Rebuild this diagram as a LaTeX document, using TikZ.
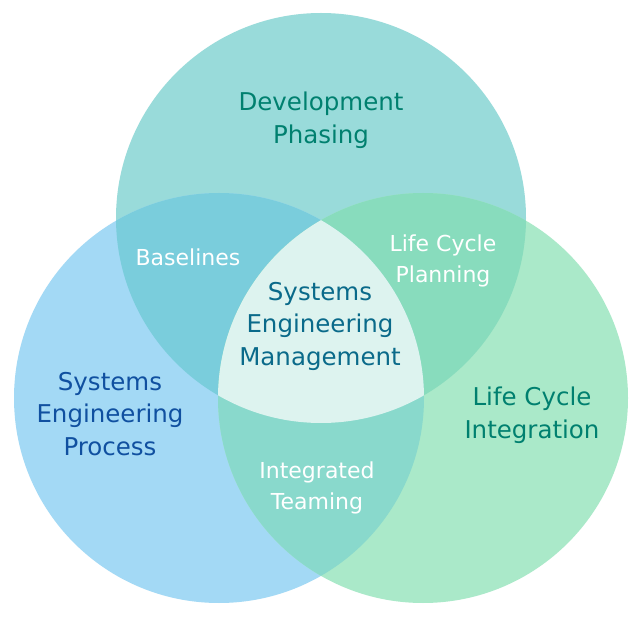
\documentclass[tikz,border=0pt]{standalone}
\usepackage{fontspec}
\setmainfont{DejaVu Sans}
\definecolor{cTop}{HTML}{99DBDA}
\definecolor{cLeft}{HTML}{A3D9F5}
\definecolor{cRight}{HTML}{AAE9C9}
\definecolor{cTL}{HTML}{7ACDDC}
\definecolor{cTR}{HTML}{88DCBD}
\definecolor{cLR}{HTML}{89D9CC}
\definecolor{cC}{HTML}{DDF3EF}
\definecolor{tTeal}{HTML}{00806F}
\definecolor{tBlue}{HTML}{1050A0}
\definecolor{tMid}{HTML}{0A6A8A}
\tikzset{
  big/.style={font=\fontsize{24.5}{32.5}\selectfont, align=center, inner sep=0pt},
  small/.style={font=\fontsize{22}{30.5}\selectfont, align=center, inner sep=0pt, text=white},
}
\begin{document}
\begin{tikzpicture}[x=1pt,y=-1pt]
\useasboundingbox (0,0) rectangle (640,617);
\fill[white] (0,0) rectangle (640,617);
\coordinate (T) at (321,218);
\coordinate (L) at (219,398);
\coordinate (R) at (423,398);
\def\rr{205}
\fill[cTop] (T) circle (\rr);
\fill[cLeft] (L) circle (\rr);
\fill[cRight] (R) circle (\rr);
\begin{scope}\clip (T) circle (\rr); \fill[cTL] (L) circle (\rr); \fill[cTR] (R) circle (\rr);\end{scope}
\begin{scope}\clip (L) circle (\rr); \fill[cLR] (R) circle (\rr);\end{scope}
\begin{scope}\clip (T) circle (\rr); \clip (L) circle (\rr); \fill[cC] (R) circle (\rr);\end{scope}
\node[big, text=tTeal] (dp) at (321,120) {Development\\Phasing};
\node[big, text=tBlue] (sep) at (110,414) {Systems\\Engineering\\Process};
\node[big, text=tTeal] (lci) at (532,415) {Life Cycle\\Integration};
\node[big, text=tMid] (sem) at (320,326) {Systems\\Engineering\\Management};
\node[small] (bl) at (188,257) {Baselines};
\node[small] (lcp) at (443,261) {Life Cycle\\Planning};
\node[small] (it) at (317,488) {Integrated\\Teaming};
\end{tikzpicture}
\end{document}
